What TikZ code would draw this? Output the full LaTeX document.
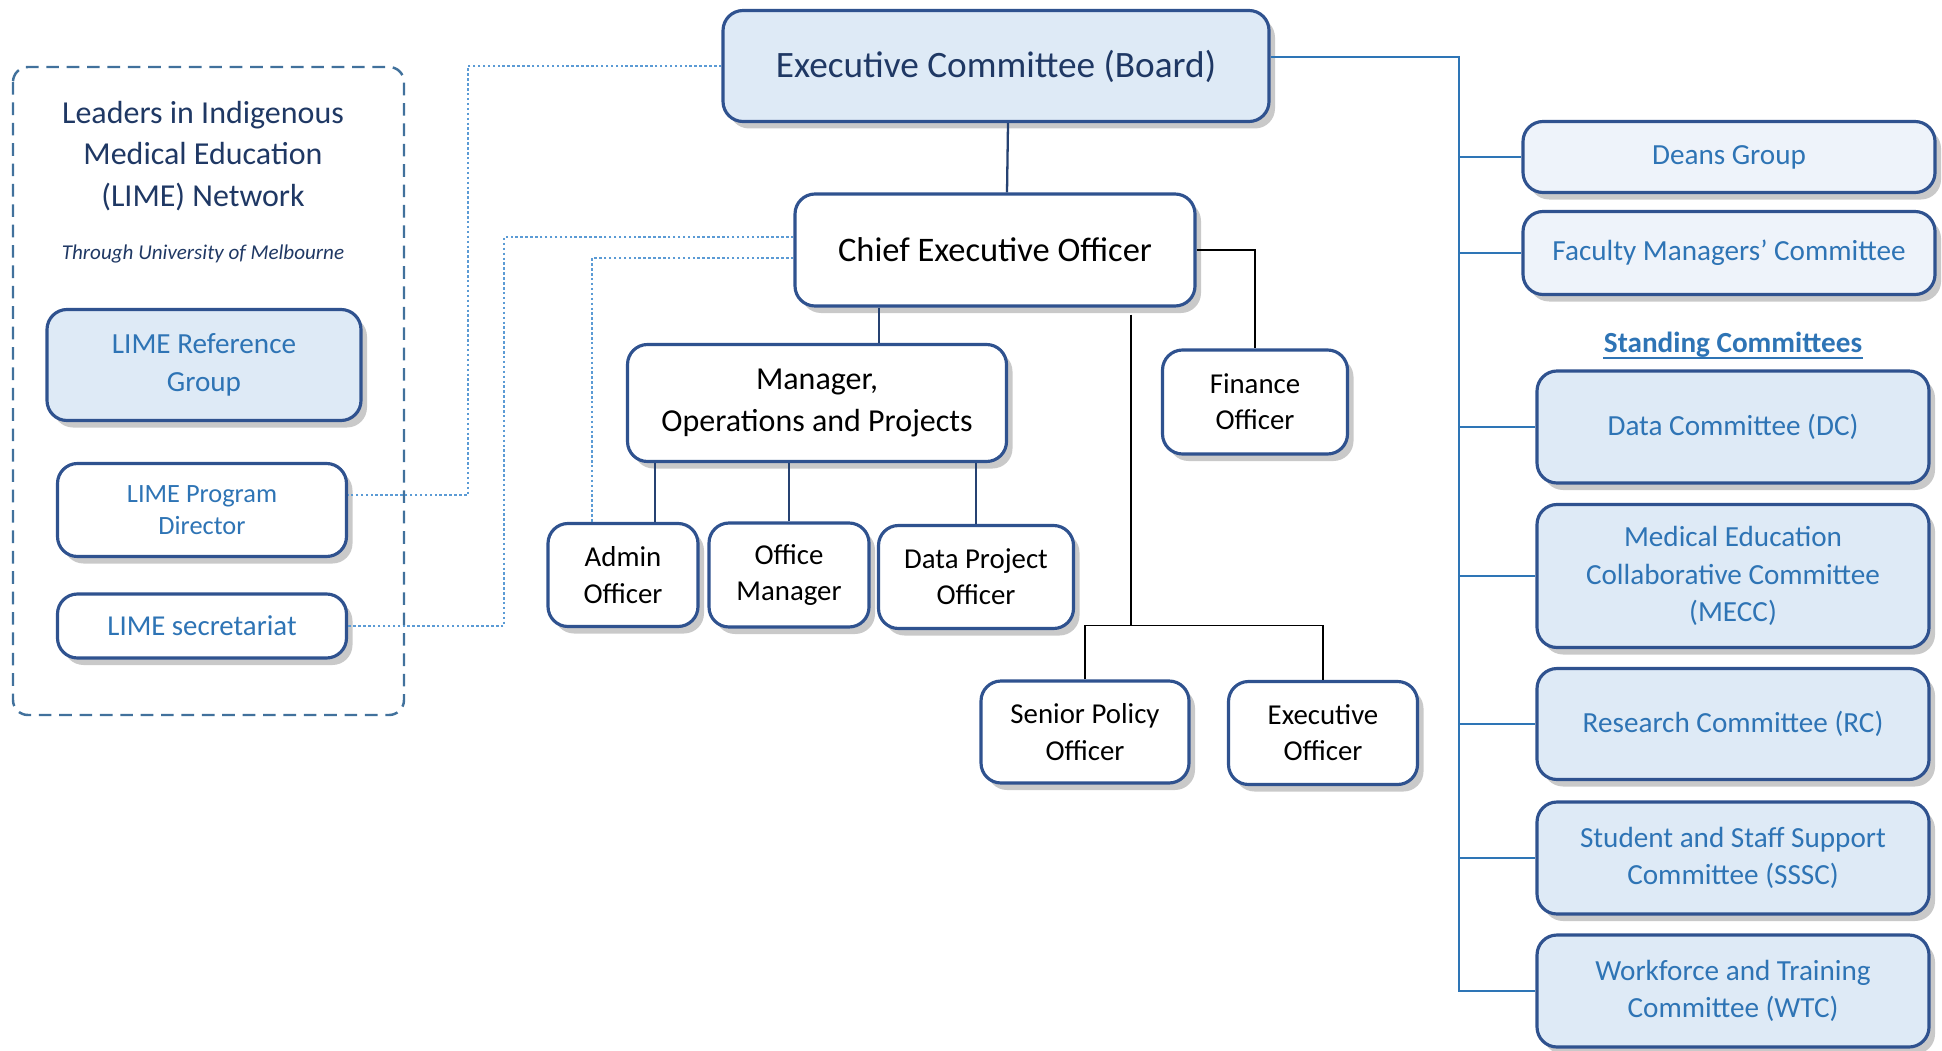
\documentclass[tikz,border=0pt]{standalone}
\usepackage{fontspec}
\setmainfont{Carlito}
\usetikzlibrary{shadows}

\definecolor{boxline}{RGB}{47,82,143}
\definecolor{boxfill}{RGB}{222,234,246}
\definecolor{palefill}{RGB}{238,243,250}
\definecolor{textblue}{RGB}{46,116,181}
\definecolor{navy}{RGB}{31,56,100}
\definecolor{dotblue}{RGB}{91,155,213}
\definecolor{busblue}{RGB}{46,117,182}
\definecolor{netline}{RGB}{65,113,156}

\begin{document}
\begin{tikzpicture}[
    x=0.1mm, y=-0.1mm, % pixel grid of the chart
    box/.style={draw=boxline, line width=0.9pt, rounded corners=2mm, fill=white,
        align=center, inner sep=0pt,
        drop shadow={shadow xshift=0.6mm, shadow yshift=-0.7mm, opacity=0.3, fill=black!70}},
    board/.style={box, fill=boxfill, text=navy},
    staff/.style={box, text=black, font=\fontsize{8.2}{10.3}\selectfont},
    limebox/.style={box, text=textblue},
    committee/.style={box, fill=boxfill, text=textblue, minimum width=39.2mm,
        font=\fontsize{8.3}{10.6}\selectfont},
    panel/.style={committee, fill=palefill, minimum width=41.2mm},
    tie/.style={draw=boxline!80!black, line width=0.65pt},
    hairline/.style={draw=black, line width=0.35pt},
    bus/.style={draw=busblue, line width=0.7pt},
    dotlink/.style={draw=dotblue, line width=0.8pt, dash pattern=on 0.7pt off 0.7pt}
]
\useasboundingbox (0,0) rectangle (1942,1050);

% LIME network
\draw[netline, line width=0.7pt, dash pattern=on 3.6pt off 2.2pt, rounded corners=1.5mm]
    (13,67) rectangle (404,715);
\node[text=navy, align=center, font=\fontsize{9.1}{11.7}\selectfont] (nettitle) at (203,156)
    {Leaders in Indigenous\\Medical Education\\(LIME) Network};
\node[text=navy, font=\fontsize{6}{7}\selectfont\itshape] (netsub) at (203,254)
    {Through University of Melbourne};
\node[limebox, fill=boxfill, minimum width=31.4mm, minimum height=11.1mm,
    font=\fontsize{8.3}{10.8}\selectfont] (limeref) at (204,365) {LIME Reference\\Group};
\node[limebox, minimum width=28.9mm, minimum height=9.3mm,
    font=\fontsize{7.5}{9.2}\selectfont] (limepd) at (202,510) {LIME Program\\Director};
\node[limebox, minimum width=28.9mm, minimum height=6.4mm,
    font=\fontsize{8.2}{10}\selectfont] (limesec) at (202,626) {LIME secretariat};

% Board, CEO and staff
\node[board, minimum width=54.6mm, minimum height=11.1mm,
    font=\fontsize{10.6}{13}\selectfont] (ec) at (996,66) {Executive Committee (Board)};
\node[box, minimum width=40mm, minimum height=11.2mm,
    font=\fontsize{9.8}{12}\selectfont] (ceo) at (995,250) {Chief Executive Officer};
\node[box, minimum width=37.9mm, minimum height=11.7mm,
    font=\fontsize{9.1}{12}\selectfont] (mgr) at (817,403) {Manager,\\Operations and Projects};
\node[staff, minimum width=18.5mm, minimum height=10.4mm] (fin) at (1255,402) {Finance\\Officer};
\node[staff, minimum width=15mm, minimum height=10.3mm] (admin) at (623,575) {Admin\\Officer};
\node[staff, minimum width=16mm, minimum height=10.4mm] (offmgr) at (789,575) {Office\\Manager};
\node[staff, minimum width=19.5mm, minimum height=10.3mm] (dpo) at (976,577) {Data Project\\Officer};
\node[staff, minimum width=20.8mm, minimum height=10.2mm] (spo) at (1085,732) {Senior Policy\\Officer};
\node[staff, minimum width=18.9mm, minimum height=10.3mm] (exo) at (1323,733) {Executive\\Officer};

% Committees
\node[panel, minimum height=7.1mm] (deans) at (1729,157) {Deans Group};
\node[panel, minimum height=8.3mm] (fmc) at (1729,253) {Faculty Managers’ Committee};
\node[text=textblue, inner sep=0pt, font=\fontsize{8.3}{10}\selectfont\bfseries] (standing) at (1733,345)
    {Standing Committees};
\draw[textblue, line width=0.55pt] ([yshift=-0.5mm]standing.base west) -- ([yshift=-0.5mm]standing.base east);
\node[committee, minimum height=11.2mm] (dc) at (1733,427) {Data Committee (DC)};
\node[committee, minimum height=14.3mm] (mecc) at (1733,576)
    {Medical Education\\Collaborative Committee\\(MECC)};
\node[committee, minimum height=11.1mm] (rc) at (1733,724) {Research Committee (RC)};
\node[committee, minimum height=11.2mm] (sssc) at (1733,858) {Student and Staff Support\\Committee (SSSC)};
\node[committee, minimum height=11.2mm] (wtc) at (1733,991) {Workforce and Training\\Committee (WTC)};

% Board to committees
\coordinate (rail) at (1459,57);
\draw[bus] (ec.east |- rail) -- (rail) -- (rail |- wtc.west) -- (wtc.west);
\foreach \c in {deans,fmc,dc,mecc,rc,sssc}
    \draw[bus] (rail |- \c.west) -- (\c.west);

% Line management
\draw[tie] ([xshift=1.2mm]ec.south) -- ([xshift=1.2mm]ceo.north);
\coordinate (c1) at ([xshift=-11.6mm]ceo.south);
\draw[tie] (c1) -- (c1 |- mgr.north);
\draw[tie] ([xshift=3.2mm]admin.north) -- ([xshift=3.2mm]admin.north |- mgr.south);
\draw[tie] (offmgr.north) -- (offmgr.north |- mgr.south);
\draw[tie] (dpo.north) -- (dpo.north |- mgr.south);

\draw[hairline] (ceo.east) -| (fin.north);
\coordinate (c2) at ([xshift=13.6mm,yshift=-0.7mm]ceo.south);
\path (c2 |- spo.north) ++(0,-54) coordinate (c3);
\draw[hairline] (c2) -- (c3);
\draw[hairline] (spo.north) |- (c3) -| (exo.north);

% LIME links
\coordinate (d1) at (468,0);
\coordinate (d2) at (504,0);
\coordinate (pdlink) at ([yshift=1.5mm]limepd.east);
\draw[dotlink] (ec.west) -| (d1 |- pdlink) -- (pdlink);
\draw[dotlink] ([yshift=1.3mm]ceo.west) -| (d2 |- limesec.east) -- (limesec.east);
\draw[dotlink] ([yshift=-0.8mm]ceo.west) -| ([xshift=-3.1mm]admin.north);

\end{tikzpicture}
\end{document}
